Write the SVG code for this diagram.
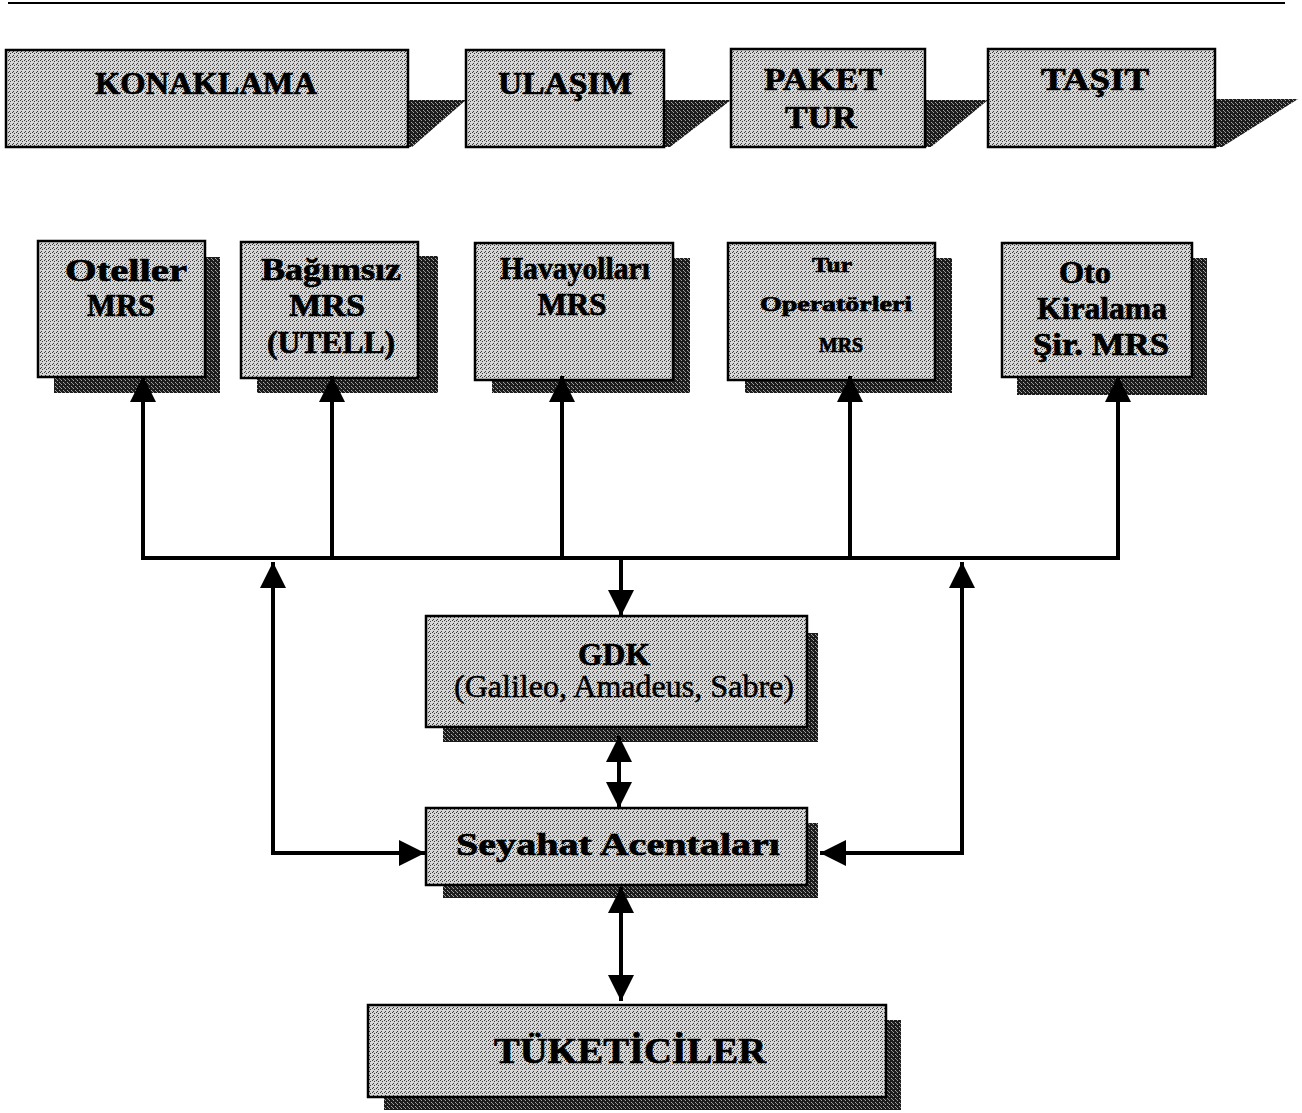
<svg xmlns="http://www.w3.org/2000/svg" width="1302" height="1113" viewBox="0 0 1302 1113">
  <defs>
    <!-- light halftone screen for box faces -->
    <pattern id="screen" width="4" height="4" patternUnits="userSpaceOnUse">
      <rect width="4" height="4" fill="#d6d6d6"/>
      <rect x="0" y="0" width="1" height="1" fill="#3a3a3a"/>
      <rect x="2" y="1" width="1" height="1" fill="#3a3a3a"/>
      <rect x="1" y="3" width="1" height="1" fill="#3a3a3a"/>
    </pattern>
    <!-- dark halftone screen for shadows -->
    <pattern id="shade" width="4" height="4" patternUnits="userSpaceOnUse">
      <rect width="4" height="4" fill="#1c1c1c"/>
      <rect x="1" y="0" width="1" height="1" fill="#a8a8a8"/>
      <rect x="3" y="2" width="1" height="1" fill="#a8a8a8"/>
      <rect x="0" y="3" width="1" height="1" fill="#8a8a8a"/>
    </pattern>
    <marker id="head" viewBox="0 0 10 10" refX="10" refY="5" markerWidth="6.5" markerHeight="6.5" markerUnits="strokeWidth" orient="auto-start-reverse">
      <path d="M0,0 L10,5 L0,10 z" fill="#000"/>
    </marker>
    <style>
      .face { fill: url(#screen); stroke: #000; stroke-width: 2.5; }
      .shadow { fill: url(#shade); stroke: none; }
      .lbl { font-family: "Liberation Serif", "Times New Roman", serif; font-weight: bold; fill: #000; stroke: #000; stroke-width: 0.7; text-anchor: middle; }
      .big { font-size: 32px; }
      .mid { font-size: 31px; }
      .small { font-size: 20px; }
      .reg { font-weight: normal; stroke-width: 0.5; }
      .wire { fill: none; stroke: #000; stroke-width: 4; stroke-linejoin: miter; }
    </style>
  </defs>

  <rect width="1302" height="1113" fill="#fff"/>

  <!-- page rule -->
  <line x1="8" y1="3" x2="1285" y2="3" stroke="#000" stroke-width="2"/>

  <!-- category headers -->
  <g id="konaklama">
    <polygon class="shadow" points="408,100 466,100 412,147 408,147"/>
    <rect class="face" x="6" y="50" width="402" height="97"/>
    <text class="lbl big" x="206" y="94" textLength="222" lengthAdjust="spacingAndGlyphs">KONAKLAMA</text>
  </g>
  <g id="ulasim">
    <polygon class="shadow" points="664,100 731,100 670,147 664,147"/>
    <rect class="face" x="466" y="50" width="198" height="97"/>
    <text class="lbl big" x="565" y="94" textLength="134" lengthAdjust="spacingAndGlyphs">ULAŞIM</text>
  </g>
  <g id="paket-tur">
    <polygon class="shadow" points="925,100 988,100 931,147 925,147"/>
    <rect class="face" x="731" y="49" width="194" height="98"/>
    <text class="lbl big" x="823" y="90" textLength="118" lengthAdjust="spacingAndGlyphs">PAKET</text>
    <text class="lbl big" x="821" y="128" textLength="72" lengthAdjust="spacingAndGlyphs">TUR</text>
  </g>
  <g id="tasit">
    <polygon class="shadow" points="1215,99 1298,99 1222,147 1215,147"/>
    <rect class="face" x="988" y="49" width="227" height="98"/>
    <text class="lbl big" x="1095" y="90" textLength="108" lengthAdjust="spacingAndGlyphs">TAŞIT</text>
  </g>

  <!-- reservation systems -->
  <g id="oteller-mrs">
    <rect class="shadow" x="54" y="257" width="166" height="136"/>
    <rect class="face" x="38" y="241" width="167" height="136"/>
    <text class="lbl mid" x="126" y="281" textLength="122" lengthAdjust="spacingAndGlyphs">Oteller</text>
    <text class="lbl mid" x="121" y="316" textLength="68" lengthAdjust="spacingAndGlyphs">MRS</text>
  </g>
  <g id="bagimsiz-mrs">
    <rect class="shadow" x="257" y="256" width="181" height="137"/>
    <rect class="face" x="241" y="242" width="177" height="136"/>
    <text class="lbl mid" x="331" y="280" textLength="140" lengthAdjust="spacingAndGlyphs">Bağımsız</text>
    <text class="lbl mid" x="327" y="316" textLength="76" lengthAdjust="spacingAndGlyphs">MRS</text>
    <text class="lbl mid" x="331" y="353" textLength="128" lengthAdjust="spacingAndGlyphs">(UTELL)</text>
  </g>
  <g id="havayollari-mrs">
    <rect class="shadow" x="492" y="258" width="198" height="135"/>
    <rect class="face" x="475" y="243" width="198" height="137"/>
    <text class="lbl mid" x="575" y="279" textLength="150" lengthAdjust="spacingAndGlyphs">Havayolları</text>
    <text class="lbl mid" x="572" y="315" textLength="69" lengthAdjust="spacingAndGlyphs">MRS</text>
  </g>
  <g id="tur-operatorleri-mrs">
    <rect class="shadow" x="745" y="258" width="207" height="135"/>
    <rect class="face" x="728" y="243" width="207" height="137"/>
    <text class="lbl small" x="832" y="272" textLength="40" lengthAdjust="spacingAndGlyphs">Tur</text>
    <text class="lbl small" x="836" y="311" textLength="152" lengthAdjust="spacingAndGlyphs">Operatörleri</text>
    <text class="lbl small" x="841" y="352" textLength="44" lengthAdjust="spacingAndGlyphs">MRS</text>
  </g>
  <g id="oto-kiralama-mrs">
    <rect class="shadow" x="1017" y="258" width="190" height="137"/>
    <rect class="face" x="1002" y="243" width="190" height="134"/>
    <text class="lbl mid" x="1085" y="283" textLength="52" lengthAdjust="spacingAndGlyphs">Oto</text>
    <text class="lbl mid" x="1102" y="319" textLength="130" lengthAdjust="spacingAndGlyphs">Kiralama</text>
    <text class="lbl mid" x="1101" y="355" textLength="136" lengthAdjust="spacingAndGlyphs">Şir. MRS</text>
  </g>

  <!-- distribution and sales -->
  <g id="gdk">
    <rect class="shadow" x="443" y="633" width="375" height="109"/>
    <rect class="face" x="426" y="616" width="381" height="111"/>
    <text class="lbl mid" x="614" y="665" textLength="72" lengthAdjust="spacingAndGlyphs">GDK</text>
    <text class="lbl mid reg" x="624" y="697" textLength="340" lengthAdjust="spacingAndGlyphs">(Galileo, Amadeus, Sabre)</text>
  </g>
  <g id="seyahat-acentalari">
    <rect class="shadow" x="443" y="823" width="375" height="75"/>
    <rect class="face" x="426" y="808" width="381" height="77"/>
    <text class="lbl mid" x="618" y="855" textLength="324" lengthAdjust="spacingAndGlyphs">Seyahat Acentaları</text>
  </g>
  <g id="tuketiciler">
    <rect class="shadow" x="384" y="1020" width="517" height="90"/>
    <rect class="face" x="368" y="1005" width="518" height="92"/>
    <text class="lbl" style="font-size:36px" x="630" y="1063" textLength="272" lengthAdjust="spacingAndGlyphs">TÜKETİCİLER</text>
  </g>

  <!-- connectors -->
  <g id="connectors">
    <!-- common bus linking the reservation systems -->
    <polyline class="wire" points="143,376 143,558 1118,558 1118,376" marker-end="url(#head)" marker-start="url(#head)"/>
    <line class="wire" x1="332" y1="558" x2="332" y2="376" marker-end="url(#head)"/>
    <line class="wire" x1="562" y1="558" x2="562" y2="376" marker-end="url(#head)"/>
    <line class="wire" x1="850" y1="558" x2="850" y2="376" marker-end="url(#head)"/>
    <!-- bus to GDK -->
    <line class="wire" x1="621" y1="558" x2="621" y2="616" marker-end="url(#head)"/>
    <!-- side links from bus to travel agencies -->
    <polyline class="wire" points="273,562 273,853 425,853" marker-start="url(#head)" marker-end="url(#head)"/>
    <polyline class="wire" points="962,562 962,853 820,853" marker-start="url(#head)" marker-end="url(#head)"/>
    <!-- GDK to travel agencies -->
    <line class="wire" x1="619" y1="736" x2="619" y2="808" marker-start="url(#head)" marker-end="url(#head)"/>
    <!-- travel agencies to consumers -->
    <line class="wire" x1="621" y1="887" x2="621" y2="1001" marker-start="url(#head)" marker-end="url(#head)"/>
  </g>
</svg>
